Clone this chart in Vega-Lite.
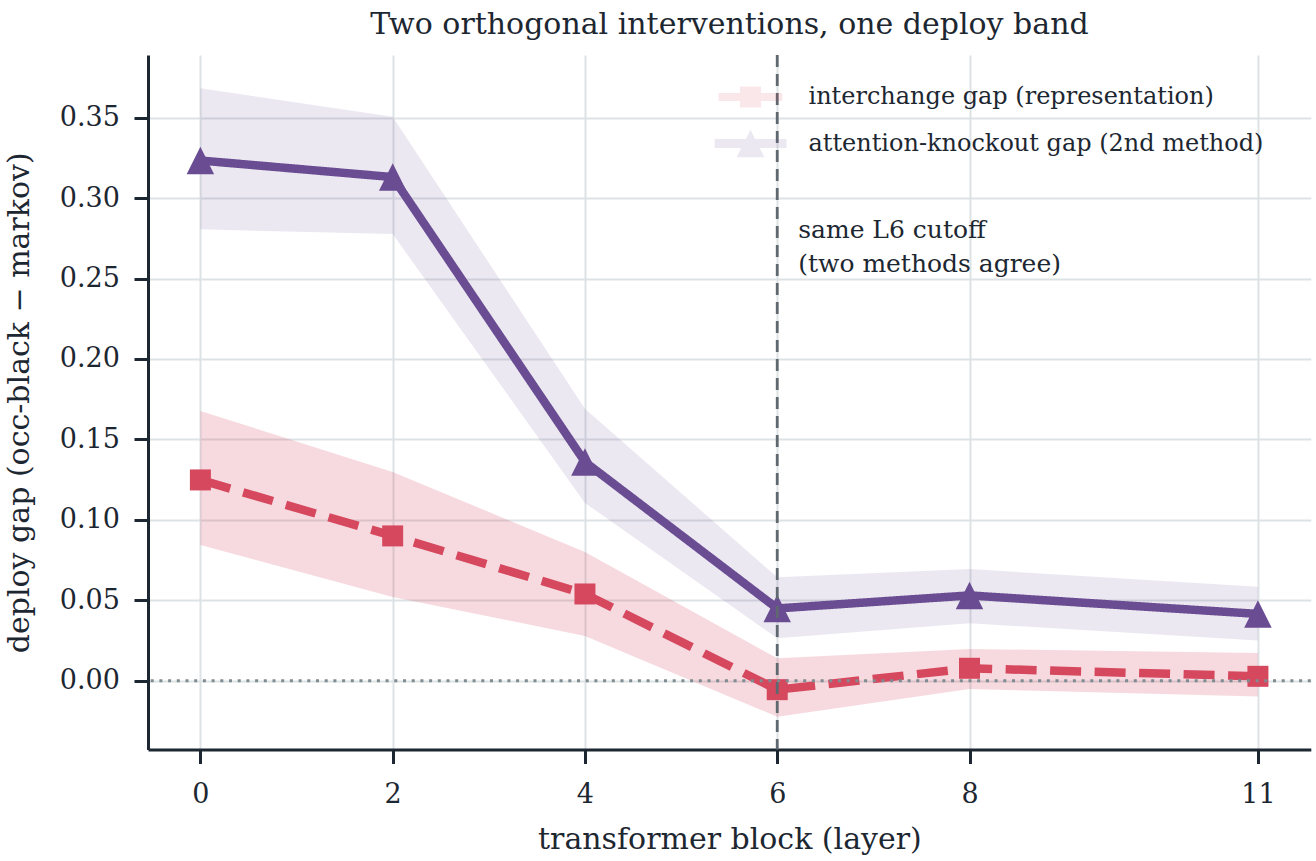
{
  "$schema": "https://vega.github.io/schema/vega-lite/v6.json",
  "width": 1162.8,
  "height": 694.5,
  "autosize": {"type": "none"},
  "padding": {"left": 148, "top": 55, "right": 5, "bottom": 111},
  "background": "white",
  "title": {
    "text": "Two orthogonal interventions, one deploy band",
    "fontSize": 30,
    "font": "DejaVu Serif",
    "fontWeight": "normal",
    "color": "#1d2731",
    "anchor": "middle",
    "frame": "group",
    "baseline": "alphabetic",
    "offset": 24,
    "dy": 34
  },
  "datasets": {
    "gaps": [
      {"series": "interchange gap (representation)", "layer": 0, "gap": 0.1248, "lo": 0.0844, "hi": 0.1677},
      {"series": "interchange gap (representation)", "layer": 2, "gap": 0.0900, "lo": 0.0520, "hi": 0.1298},
      {"series": "interchange gap (representation)", "layer": 4, "gap": 0.0539, "lo": 0.0278, "hi": 0.0800},
      {"series": "interchange gap (representation)", "layer": 6, "gap": -0.0056, "lo": -0.0224, "hi": 0.0139},
      {"series": "interchange gap (representation)", "layer": 8, "gap": 0.0077, "lo": -0.0052, "hi": 0.0197},
      {"series": "interchange gap (representation)", "layer": 11, "gap": 0.0027, "lo": -0.0099, "hi": 0.0172},
      {"series": "attention-knockout gap (2nd method)", "layer": 0, "gap": 0.3234, "lo": 0.2806, "hi": 0.3683},
      {"series": "attention-knockout gap (2nd method)", "layer": 2, "gap": 0.3131, "lo": 0.2777, "hi": 0.3506},
      {"series": "attention-knockout gap (2nd method)", "layer": 4, "gap": 0.1360, "lo": 0.1105, "hi": 0.1690},
      {"series": "attention-knockout gap (2nd method)", "layer": 6, "gap": 0.0449, "lo": 0.0264, "hi": 0.0643},
      {"series": "attention-knockout gap (2nd method)", "layer": 8, "gap": 0.0530, "lo": 0.0357, "hi": 0.0694},
      {"series": "attention-knockout gap (2nd method)", "layer": 11, "gap": 0.0415, "lo": 0.0249, "hi": 0.0584}
    ],
    "refs": [{"zero": 0, "cut": 6}]
  },
  "layer": [
    {
      "data": {"name": "gaps"},
      "transform": [{"filter": "datum.series === 'interchange gap (representation)'"}],
      "mark": {"type": "area", "interpolate": "linear", "opacity": 0.2},
      "encoding": {
        "x": {
          "field": "layer",
          "type": "quantitative",
          "scale": {"domain": [-0.545, 11.55], "nice": false, "zero": false},
          "axis": {
            "values": [0, 2, 4, 6, 8, 11],
            "format": "d",
            "title": "transformer block (layer)",
            "labelBaseline": "alphabetic",
            "labelPadding": 39,
            "labelFlush": false,
            "labelOverlap": false,
            "titleY": 99.5,
            "titleBaseline": "alphabetic"
          }
        },
        "y": {
          "field": "lo",
          "type": "quantitative",
          "scale": {"domain": [-0.0428, 0.389], "nice": false, "zero": false},
          "axis": {
            "values": [0, 0.05, 0.1, 0.15, 0.2, 0.25, 0.3, 0.35],
            "format": ".2f",
            "title": "deploy gap (occ-black − markov)",
            "labelPadding": 14.6,
            "labelOverlap": false,
            "labelFlush": false,
            "titleX": -119.7,
            "titleBaseline": "alphabetic"
          }
        },
        "y2": {"field": "hi"},
        "color": {
          "field": "series",
          "type": "nominal",
          "scale": {
            "domain": ["interchange gap (representation)", "attention-knockout gap (2nd method)"],
            "range": ["#d6485e", "#6a4c93"]
          },
          "legend": {
            "orient": "none",
            "legendX": 587.5,
            "legendY": 27,
            "title": null,
            "padding": 0,
            "symbolSize": 900,
            "symbolOffset": 0,
            "symbolOpacity": 1,
            "symbolStrokeWidth": 0,
            "labelOffset": 43,
            "rowPadding": 19.5,
            "labelFontSize": 24,
            "labelFont": "DejaVu Serif",
            "labelColor": "#1d2731",
            "labelLimit": 700
          }
        }
      }
    },
    {
      "data": {"name": "gaps"},
      "transform": [{"filter": "datum.series === 'attention-knockout gap (2nd method)'"}],
      "mark": {"type": "area", "interpolate": "linear", "opacity": 0.13},
      "encoding": {
        "x": {"field": "layer", "type": "quantitative"},
        "y": {"field": "lo", "type": "quantitative"},
        "y2": {"field": "hi"},
        "color": {"field": "series", "type": "nominal"}
      }
    },
    {
      "data": {"name": "gaps"},
      "mark": {"type": "line", "strokeWidth": 8.5, "strokeJoin": "round", "strokeCap": "butt"},
      "encoding": {
        "x": {"field": "layer", "type": "quantitative"},
        "y": {"field": "gap", "type": "quantitative"},
        "color": {"field": "series", "type": "nominal"},
        "strokeDash": {
          "field": "series",
          "type": "nominal",
          "scale": {
            "domain": ["interchange gap (representation)", "attention-knockout gap (2nd method)"],
            "range": [[31, 13.5], [1, 0]]
          },
          "legend": null
        }
      }
    },
    {
      "data": {"name": "gaps"},
      "transform": [{"filter": "datum.series === 'interchange gap (representation)'"}],
      "mark": {"type": "point", "shape": "square", "size": 441, "filled": true, "opacity": 1, "strokeWidth": 0},
      "encoding": {
        "x": {"field": "layer", "type": "quantitative"},
        "y": {"field": "gap", "type": "quantitative"},
        "color": {"field": "series", "type": "nominal", "legend": null}
      }
    },
    {
      "data": {"name": "gaps"},
      "transform": [{"filter": "datum.series === 'attention-knockout gap (2nd method)'"}],
      "mark": {"type": "point", "shape": "M0,-1L1,1H-1Z", "size": 756, "filled": true, "opacity": 1, "strokeWidth": 0},
      "encoding": {
        "x": {"field": "layer", "type": "quantitative"},
        "y": {"field": "gap", "type": "quantitative"},
        "color": {"field": "series", "type": "nominal", "legend": null}
      }
    },
    {
      "data": {"name": "gaps"},
      "mark": {"type": "point", "filled": true, "opacity": 0, "size": 900, "strokeWidth": 0},
      "encoding": {
        "x": {"field": "layer", "type": "quantitative"},
        "y": {"field": "gap", "type": "quantitative"},
        "color": {"field": "series", "type": "nominal"},
        "shape": {
          "field": "series",
          "type": "nominal",
          "scale": {
            "domain": ["interchange gap (representation)", "attention-knockout gap (2nd method)"],
            "range": [
              "M-2.13,-0.27H2.13V0.27H-2.13Z M-0.7,-0.7H0.7V0.7H-0.7Z",
              "M-2.4,-0.3H2.4V0.3H-2.4Z M0,-0.92L0.93,0.92H-0.93Z"
            ]
          },
          "legend": null
        }
      }
    },
    {
      "data": {"name": "refs"},
      "mark": {"type": "rule", "color": "#7f8a91", "strokeWidth": 3, "strokeDash": [3, 5.7]},
      "encoding": {"y": {"field": "zero", "type": "quantitative"}}
    },
    {
      "data": {"name": "refs"},
      "mark": {"type": "rule", "color": "#5f686e", "strokeWidth": 2.8, "strokeDash": [12, 7]},
      "encoding": {"x": {"field": "cut", "type": "quantitative"}}
    },
    {
      "data": {"name": "refs"},
      "mark": {
        "type": "text",
        "align": "left",
        "baseline": "alphabetic",
        "dx": 21,
        "fontSize": 25,
        "lineHeight": 34,
        "font": "DejaVu Serif",
        "color": "#1d2731"
      },
      "encoding": {
        "x": {"datum": 6},
        "y": {"datum": 0.2754},
        "text": {"value": ["same L6 cutoff", "(two methods agree)"]}
      }
    }
  ],
  "config": {
    "font": "DejaVu Serif",
    "view": {"stroke": null},
    "axis": {
      "domainColor": "#1d2731",
      "domainWidth": 3,
      "tickColor": "#1d2731",
      "tickWidth": 3,
      "tickSize": 14,
      "labelColor": "#1d2731",
      "titleColor": "#1d2731",
      "labelFont": "DejaVu Serif",
      "titleFont": "DejaVu Serif",
      "labelFontSize": 27,
      "titleFontSize": 30,
      "titleFontWeight": "normal",
      "grid": true,
      "gridColor": "#dde2e5",
      "gridWidth": 2
    }
  }
}
